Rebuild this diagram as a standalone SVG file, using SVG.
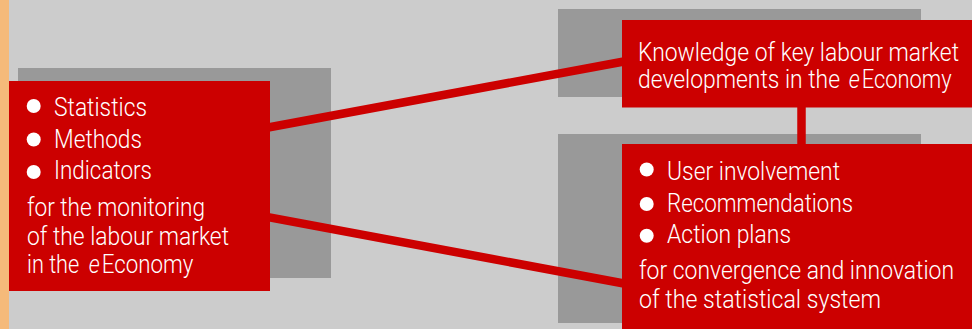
<svg xmlns="http://www.w3.org/2000/svg" width="972" height="329" viewBox="0 0 972 329">
<style>
.shadow{fill:#999999}
.box{fill:#CC0000}
.t{font-family:Roboto,"Liberation Sans",Arial,sans-serif;font-weight:300;font-size:25px;fill:#ffffff}
.i{font-style:italic}
.b{fill:#ffffff}
.c{stroke:#CC0000;stroke-width:8.5;fill:none}
</style>
<rect x="0" y="0" width="972" height="329" fill="#CCCCCC"/>
<rect x="0" y="0" width="9" height="329" fill="#F5BA7A"/>
<rect class="shadow" x="18" y="68" width="313" height="210"/>
<rect class="shadow" x="558" y="9" width="363" height="88"/>
<rect class="shadow" x="558" y="134" width="363" height="189"/>
<g id="connectors">
<line class="c" x1="260" y1="129" x2="632" y2="60"/>
<line class="c" x1="260" y1="215.6" x2="632" y2="285"/>
<line class="c" x1="801.5" y1="100" x2="801.5" y2="150"/>
</g>
<g id="node-left">
<rect class="box" x="9" y="81" width="261" height="210"/>
<circle class="b" cx="33.7" cy="106" r="7"/>
<circle class="b" cx="33.7" cy="139.5" r="7"/>
<circle class="b" cx="33.7" cy="172" r="7"/>
<text class="t" x="54" y="115.5" textLength="93" lengthAdjust="spacingAndGlyphs">Statistics</text>
<text class="t" x="54" y="147.5" textLength="88" lengthAdjust="spacingAndGlyphs">Methods</text>
<text class="t" x="54" y="179.3" textLength="98" lengthAdjust="spacingAndGlyphs">Indicators</text>
<text class="t" x="27" y="216" textLength="178" lengthAdjust="spacingAndGlyphs">for the monitoring</text>
<text class="t" x="27" y="245" textLength="202" lengthAdjust="spacingAndGlyphs">of the labour market</text>
<text class="t" x="27" y="273" textLength="52.3" lengthAdjust="spacingAndGlyphs">in the</text>
<text class="t i" x="88.8" y="273" textLength="11" lengthAdjust="spacingAndGlyphs">e</text>
<text class="t" x="101.7" y="273" textLength="91.6" lengthAdjust="spacingAndGlyphs">Economy</text>
</g>
<g id="node-top">
<rect class="box" x="622" y="20" width="350" height="87.5"/>
<text class="t" x="638" y="60.5" textLength="321" lengthAdjust="spacingAndGlyphs">Knowledge of key labour market</text>
<text class="t" x="638" y="87.5" textLength="202" lengthAdjust="spacingAndGlyphs">developments in the</text>
<text class="t i" x="848.8" y="87.5" textLength="11" lengthAdjust="spacingAndGlyphs">e</text>
<text class="t" x="861.7" y="87.5" textLength="90" lengthAdjust="spacingAndGlyphs">Economy</text>
</g>
<g id="node-bottom">
<rect class="box" x="622" y="144" width="350" height="185"/>
<circle class="b" cx="646.7" cy="169.5" r="7"/>
<circle class="b" cx="646.7" cy="204" r="7"/>
<circle class="b" cx="646.7" cy="235.7" r="7"/>
<text class="t" x="667" y="180" textLength="173" lengthAdjust="spacingAndGlyphs">User involvement</text>
<text class="t" x="667" y="211.7" textLength="186" lengthAdjust="spacingAndGlyphs">Recommendations</text>
<text class="t" x="667" y="243.3" textLength="124" lengthAdjust="spacingAndGlyphs">Action plans</text>
<text class="t" x="639" y="279.3" textLength="315" lengthAdjust="spacingAndGlyphs">for convergence and innovation</text>
<text class="t" x="639" y="307.7" textLength="242" lengthAdjust="spacingAndGlyphs">of the statistical system</text>
</g>
</svg>
